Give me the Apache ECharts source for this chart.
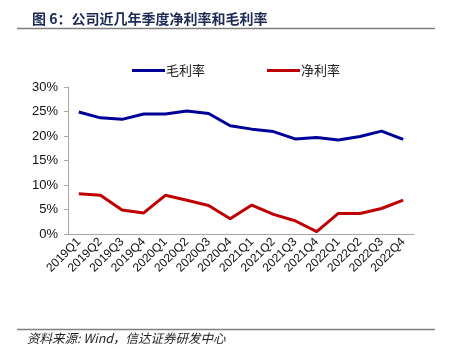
<!DOCTYPE html>
<html><head><meta charset="utf-8">
<script src="https://cdn.jsdelivr.net/npm/echarts@6/dist/echarts.min.js"></script>
<style>html,body{margin:0;padding:0;background:#fff}#c{width:449px;height:359px}</style>
</head><body><div id="c"></div>
<script>
const categories = ['2019Q1','2019Q2','2019Q3','2019Q4','2020Q1','2020Q2','2020Q3','2020Q4','2021Q1','2021Q2','2021Q3','2021Q4','2022Q1','2022Q2','2022Q3','2022Q4'];
const grossMargin = [24.9,23.7,23.4,24.5,24.5,25.1,24.6,22.1,21.4,20.9,19.4,19.7,19.2,19.9,21.0,19.3];
const netMargin = [8.2,7.9,4.9,4.3,7.9,6.9,5.8,3.1,5.9,4.0,2.7,0.5,4.2,4.2,5.2,6.9];
const yTicks = [0,5,10,15,20,25,30];
const titleText = '图 6：公司近几年季度净利率和毛利率';
const sourceText = '资料来源: Wind，信达证券研发中心';

const chart = echarts.init(document.getElementById('c'));
chart.setOption({
  backgroundColor:'#fff',
  animation:false,
  title:[{text:titleText,left:27,top:7,textStyle:{fontSize:14,fontWeight:'bold',color:'#1c2a55',fontFamily:'Noto Sans CJK SC'}}],
  graphic:[
    {type:'line',shape:{x1:17,y1:28.5,x2:435,y2:28.5},style:{stroke:'#7f7f7f',lineWidth:1.5}},
    {type:'line',shape:{x1:17,y1:329.5,x2:435,y2:329.5},style:{stroke:'#7f7f7f',lineWidth:1.5}},
    {type:'text',left:27,top:332,style:{text:sourceText,fontSize:12.5,fontStyle:'italic',fill:'#222',fontFamily:'Noto Sans CJK SC'}}
  ],
  legend:{top:59,left:127,itemWidth:33,itemHeight:3,itemGap:62,icon:'rect',
    textStyle:{fontSize:13,color:'#222',fontFamily:'Noto Sans CJK SC',padding:[0,0,0,-4]},
    data:['毛利率','净利率']},
  grid:{left:68,right:35,top:87,bottom:125},
  xAxis:{type:'category',data:categories,boundaryGap:true,
    axisLine:{lineStyle:{color:'#a6a6a6',width:1}},axisTick:{show:false},
    axisLabel:{rotate:45,fontSize:12,color:'#111',fontFamily:'Liberation Sans',interval:0,margin:6}},
  yAxis:{type:'value',min:0,max:30,interval:5,
    axisLine:{show:true,lineStyle:{color:'#a6a6a6'}},
    axisTick:{show:true,inside:false,length:4,lineStyle:{color:'#a6a6a6'}},
    splitLine:{show:false},
    axisLabel:{formatter:v=>yTicks.includes(v)?v+'%':'',fontSize:13,color:'#111',fontFamily:'Liberation Sans',margin:10}},
  series:[
    {name:'毛利率',type:'line',data:grossMargin,symbol:'none',lineStyle:{color:'#000099',width:3},itemStyle:{color:'#000099'}},
    {name:'净利率',type:'line',data:netMargin,symbol:'none',lineStyle:{color:'#c00000',width:3},itemStyle:{color:'#c00000'}}
  ]
});
</script></body></html>
